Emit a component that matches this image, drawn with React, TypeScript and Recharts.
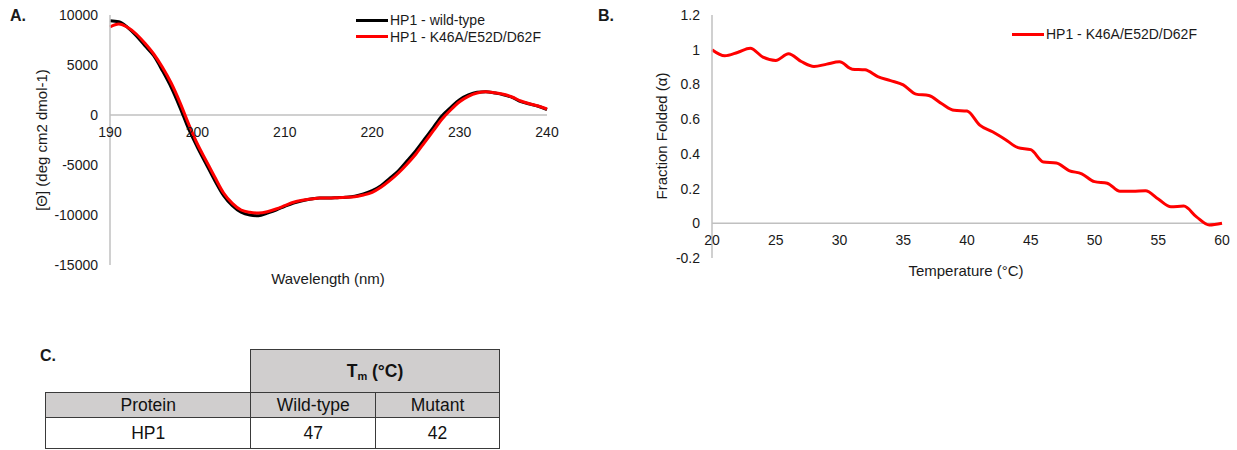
import { LineChart, Line, XAxis, YAxis, ReferenceLine } from "recharts";

// Panel A: CD spectra
const wavelengths = [
  190, 191, 192, 193, 194, 195, 196, 197, 198, 199, 200, 201, 202, 203, 204, 205, 206,
  207, 208, 209, 210, 211, 212, 213, 214, 215, 216, 217, 218, 219, 220, 221, 222, 223,
  224, 225, 226, 227, 228, 229, 230, 231, 232, 233, 234, 235, 236, 237, 238, 239, 240,
];
const wildType = [
  9430, 9330, 8770, 7930, 6930, 5930, 4430, 2770, 770, -1400, -3230, -4900, -6570,
  -8070, -9070, -9730, -10000, -10070, -9800, -9500, -9130, -8800, -8570, -8400, -8300,
  -8300, -8270, -8230, -8130, -7900, -7570, -7070, -6330, -5570, -4570, -3570, -2400,
  -1230, -70, 770, 1530, 2000, 2270, 2330, 2200, 2030, 1770, 1330, 1100, 870, 530,
];
const mutant = [
  8800, 9100, 8770, 8100, 7170, 6100, 4770, 3200, 1270, -900, -2900, -4570, -6230,
  -7800, -8830, -9500, -9730, -9800, -9670, -9400, -9070, -8730, -8530, -8400, -8300,
  -8300, -8270, -8230, -8170, -8000, -7730, -7230, -6570, -5800, -4900, -3900, -2730,
  -1570, -400, 530, 1330, 1870, 2200, 2330, 2230, 2070, 1800, 1400, 1130, 900, 600,
];
const seriesNames = ["HP1 - wild-type", "HP1 - K46A/E52D/D62F"];
const seriesColors = ["#000000", "#ff0000"];
const wavelengthTicks = [190, 200, 210, 220, 230, 240];
const ellipticityTicks = [-15000, -10000, -5000, 0, 5000, 10000];

// Panel B: thermal melt
const temperatures = [
  20, 21, 22, 23, 24, 25, 26, 27, 28, 29, 30, 31, 32, 33, 34, 35, 36, 37, 38, 39, 40,
  41, 42, 43, 44, 45, 46, 47, 48, 49, 50, 51, 52, 53, 54, 55, 56, 57, 58, 59, 60,
];
const fractionFolded = [
  1.0, 0.965, 0.984, 1.008, 0.957, 0.938, 0.977, 0.932, 0.903, 0.917, 0.93, 0.888,
  0.884, 0.845, 0.822, 0.797, 0.744, 0.736, 0.69, 0.651, 0.647, 0.566, 0.527, 0.483,
  0.436, 0.424, 0.353, 0.347, 0.304, 0.285, 0.24, 0.231, 0.184, 0.184, 0.188, 0.14,
  0.095, 0.099, 0.037, -0.01, 0.0,
];
const temperatureTicks = [20, 25, 30, 35, 40, 45, 50, 55, 60];
const fractionTicks = [-0.2, 0, 0.2, 0.4, 0.6, 0.8, 1, 1.2];

// Panel C: Tm table
const tableColumns = ["Protein", "Wild-type", "Mutant"];
const proteins = ["HP1"];
const tmWildType = [47];
const tmMutant = [42];

const spectraData = wavelengths.map((w, i) => ({ w, wt: wildType[i], mut: mutant[i] }));
const meltData = temperatures.map((t, i) => ({ t, f: fractionFolded[i] }));

const FONT = '"Liberation Sans", Arial, sans-serif';
const TEXT = "#1a1a1a";
const AXIS = "#c0c0c0";

// x tick labels sit under the zero line (axis crosses at 0)
const zeroTick = (plotH: number, min: number, max: number) => (props: any) => {
  const { x, y, payload } = props;
  const up = (plotH * (0 - min)) / (max - min);
  return (
    <text x={x} y={y - up + 17} dy="0.355em" textAnchor="middle" fontSize={14} fill={TEXT} fontFamily={FONT}>
      {payload.value}
    </text>
  );
};

const LineLegend = ({ items, left, top }: { items: number[]; left: number; top: number }) => (
  <div style={{ position: "absolute", left, top, fontFamily: FONT, fontSize: 14, color: TEXT, whiteSpace: "nowrap" }}>
    {items.map((i) => (
      <div key={i} style={{ display: "flex", alignItems: "center", height: 16.5 }}>
        <span style={{ display: "inline-block", width: 32, height: 3, background: seriesColors[i], marginRight: 2 }} />
        <span>{seriesNames[i]}</span>
      </div>
    ))}
  </div>
);

const abs = (left: number, top: number, extra: any = {}) => ({
  position: "absolute" as const,
  left,
  top,
  fontFamily: FONT,
  color: TEXT,
  whiteSpace: "nowrap" as const,
  ...extra,
});

const rotated = (cx: number, cy: number, size: number) =>
  abs(cx, cy, { fontSize: size, transform: "translate(-50%, -50%) rotate(-90deg)" });

const centered = (cx: number, cy: number, size: number) =>
  abs(cx, cy, { fontSize: size, transform: "translate(-50%, -50%)" });

const cell = (left: number, top: number, width: number, height: number, bg: string, extra: any = {}) => ({
  position: "absolute" as const,
  left,
  top,
  width,
  height,
  boxSizing: "border-box" as const,
  border: "1.5px solid #3a3a3a",
  background: bg,
  display: "flex",
  alignItems: "center",
  justifyContent: "center",
  fontFamily: FONT,
  fontSize: 17.5,
  color: "#111",
  ...extra,
});

export default function App() {
  return (
    <div style={{ position: "absolute", left: 0, top: 0, width: 1237, height: 450, background: "#fff", overflow: "hidden" }}>
      {/* Panel A */}
      <div style={abs(10, 7, { fontSize: 16, fontWeight: "bold" })}>A.</div>
      <div style={{ position: "absolute", left: 0, top: 0 }}>
        <LineChart width={600} height={300} data={spectraData} margin={{ top: 15, right: 53, bottom: 0, left: 0 }}>
          <XAxis
            dataKey="w"
            type="number"
            domain={[190, 240]}
            ticks={wavelengthTicks}
            axisLine={false}
            tickLine={false}
            tickSize={0}
            tickMargin={0}
            height={35}
            tick={zeroTick(250, -15000, 10000)}
          />
          <YAxis
            type="number"
            domain={[-15000, 10000]}
            ticks={ellipticityTicks}
            width={110}
            tickLine={false}
            tickSize={6}
            tickMargin={6}
            axisLine={{ stroke: AXIS, strokeWidth: 1.5 }}
            tick={{ fontSize: 14, fill: TEXT, fontFamily: FONT }}
          />
          <ReferenceLine y={0} stroke={AXIS} strokeWidth={1.5} />
          <Line type="monotone" dataKey="wt" name={seriesNames[0]} stroke={seriesColors[0]} strokeWidth={3} dot={false} isAnimationActive={false} />
          <Line type="monotone" dataKey="mut" name={seriesNames[1]} stroke={seriesColors[1]} strokeWidth={3} dot={false} isAnimationActive={false} />
        </LineChart>
      </div>
      <LineLegend items={[0, 1]} left={356} top={12} />
      <div style={rotated(41, 140, 15)}>[Θ] (deg cm2 dmol-1)</div>
      <div style={centered(328, 278, 15)}>Wavelength (nm)</div>

      {/* Panel B */}
      <div style={abs(598, 7, { fontSize: 16, fontWeight: "bold" })}>B.</div>
      <div style={{ position: "absolute", left: 620, top: 0 }}>
        <LineChart width={617} height={300} data={meltData} margin={{ top: 15, right: 15, bottom: 0, left: 0 }}>
          <XAxis
            dataKey="t"
            type="number"
            domain={[20, 60]}
            ticks={temperatureTicks}
            axisLine={false}
            tickLine={false}
            tickSize={0}
            tickMargin={0}
            height={42}
            tick={zeroTick(243, -0.2, 1.2)}
          />
          <YAxis
            type="number"
            domain={[-0.2, 1.2]}
            ticks={fractionTicks}
            width={92}
            tickLine={false}
            tickSize={6}
            tickMargin={6}
            axisLine={{ stroke: AXIS, strokeWidth: 1.5 }}
            tick={{ fontSize: 14, fill: TEXT, fontFamily: FONT }}
          />
          <ReferenceLine y={0} stroke={AXIS} strokeWidth={1.5} />
          <Line type="monotone" dataKey="f" name={seriesNames[1]} stroke={seriesColors[1]} strokeWidth={3} dot={false} isAnimationActive={false} />
        </LineChart>
      </div>
      <LineLegend items={[1]} left={1012} top={26} />
      <div style={rotated(661, 136, 15)}>Fraction Folded (α)</div>
      <div style={centered(966, 270, 15)}>Temperature (°C)</div>

      {/* Panel C */}
      <div style={abs(40, 347, { fontSize: 16, fontWeight: "bold" })}>C.</div>
      <div style={cell(250, 349, 250, 44, "#d0cece", { fontWeight: "bold" })}>
        <span>
          T<sub style={{ fontSize: 11, verticalAlign: "-3px" }}>m</sub> (°C)
        </span>
      </div>
      <div style={cell(45, 392, 206.5, 26.5, "#d0cece")}>{tableColumns[0]}</div>
      <div style={cell(250, 392, 126.5, 26.5, "#d0cece")}>{tableColumns[1]}</div>
      <div style={cell(375, 392, 125, 26.5, "#d0cece")}>{tableColumns[2]}</div>
      {proteins.map((p, i) => (
        <div key={p}>
          <div style={cell(45, 417, 206.5, 32, "#fff")}>{p}</div>
          <div style={cell(250, 417, 126.5, 32, "#fff")}>{tmWildType[i]}</div>
          <div style={cell(375, 417, 125, 32, "#fff")}>{tmMutant[i]}</div>
        </div>
      ))}
    </div>
  );
}
